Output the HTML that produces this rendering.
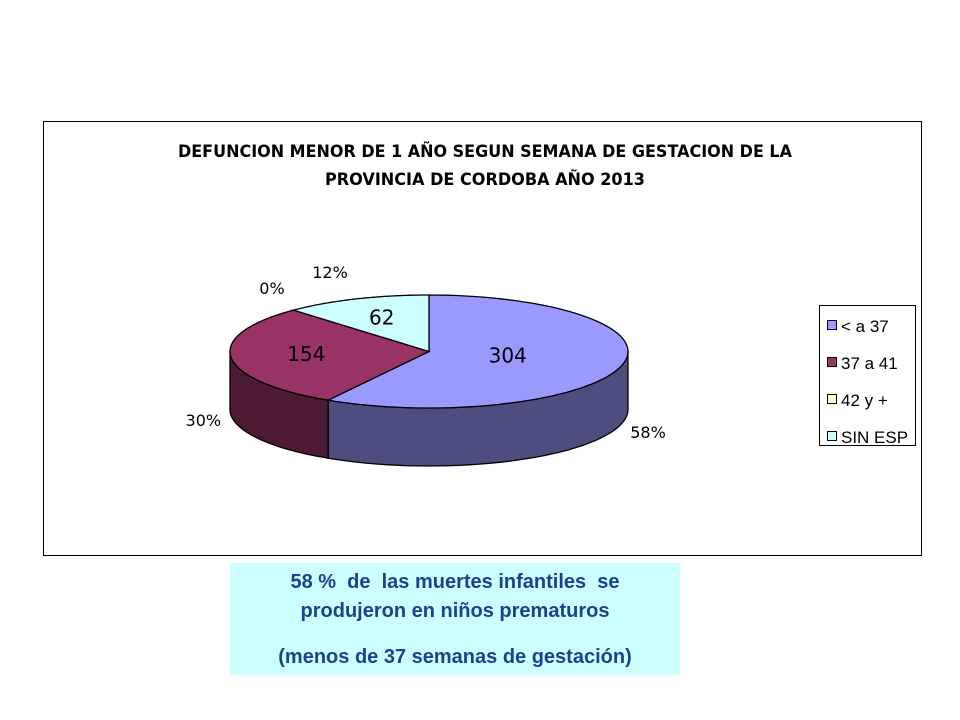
<!DOCTYPE html>
<html><head><meta charset="utf-8"><style>
body{margin:0;width:960px;height:720px;background:#fff;font-family:"Liberation Sans","DejaVu Sans",sans-serif;position:relative;overflow:hidden}
</style></head><body>
<svg width="960" height="720" style="position:absolute;left:0;top:0">
<rect x="43.5" y="121.5" width="878" height="434" fill="#fff" stroke="#000" stroke-width="1"/>
<text x="485" y="157" text-anchor="middle" font-family="'DejaVu Sans',sans-serif" font-weight="bold" font-size="16.5" textLength="614" lengthAdjust="spacingAndGlyphs">DEFUNCION MENOR DE 1 AÑO SEGUN SEMANA DE GESTACION DE LA</text>
<text x="485" y="185" text-anchor="middle" font-family="'DejaVu Sans',sans-serif" font-weight="bold" font-size="16.5" textLength="320" lengthAdjust="spacingAndGlyphs">PROVINCIA DE CORDOBA AÑO 2013</text>
<g id="pie"></g>
<g>
<rect x="819.5" y="305.5" width="96" height="140" fill="#fff" stroke="#000"/>
<g id="legend"></g>
</g>
</svg>
<div style="position:absolute;left:230px;top:563px;width:450px;height:112px;background:#ccffff;color:#1f3f8f;font-weight:bold;font-size:20px;text-align:center;line-height:29px;padding-top:5px;box-sizing:border-box">
58 % &nbsp;de &nbsp;las muertes infantiles &nbsp;se<br>produjeron en niños prematuros<br><span style="display:inline-block;margin-top:17px">(menos de 37 semanas de gestación)</span></div>
<script>
const categories=["< a 37","37 a 41","42 y +","SIN ESP"];
const values=[304,154,0,62];
const pctLabels=["58%","30%","0%","12%"];
const topColors=["#9999ff","#993366","#ffffcc","#ccffff"];
const sideColors=["#4d4d80","#4d1a33","#80806a","#6a8080"];
const cx=429,cy=351.5,rx=199,ry=56.5,depth=58;
const NS="http://www.w3.org/2000/svg";
const pie=document.getElementById('pie');
const total=values.reduce((a,b)=>a+b,0);
function pt(t,dy){return [cx+rx*Math.sin(t),cy-ry*Math.cos(t)+(dy||0)];}
function arc(a1,a2,dy,n){let s=[];for(let i=0;i<=n;i++){const t=a1+(a2-a1)*i/n;s.push(pt(t,dy));}return s;}
let acc=0;const angles=[];
values.forEach(v=>{const a1=acc/total*2*Math.PI;acc+=v;angles.push([a1,acc/total*2*Math.PI]);});
angles.forEach(([a1,a2],i)=>{
  const s=Math.max(a1,Math.PI/2),e=Math.min(a2,3*Math.PI/2);
  if(e<=s)return;
  const top=arc(s,e,0,40),bot=arc(e,s,depth,40);
  const p=document.createElementNS(NS,'path');
  p.setAttribute('d','M'+top.concat(bot).map(q=>q[0].toFixed(1)+','+q[1].toFixed(1)).join('L')+'Z');
  p.setAttribute('fill',sideColors[i]);p.setAttribute('stroke','#000');p.setAttribute('stroke-width','1.3');
  
  
  pie.appendChild(p);
});
angles.forEach(([a1,a2],i)=>{
  if(a2<=a1)return;
  const pts=arc(a1,a2,0,80);
  const p=document.createElementNS(NS,'path');
  p.setAttribute('d','M'+cx+','+cy+'L'+pts.map(q=>q[0].toFixed(1)+','+q[1].toFixed(1)).join('L')+'Z');
  p.setAttribute('fill',topColors[i]);p.setAttribute('stroke','#000');p.setAttribute('stroke-width','1.3');
  
  
  pie.appendChild(p);
});
function txt(x,y,s,size,name){const t=document.createElementNS(NS,'text');t.setAttribute('x',x);t.setAttribute('y',y);t.setAttribute('font-size',size);t.setAttribute('text-anchor','middle');t.setAttribute('font-family',"'DejaVu Sans',sans-serif");t.textContent=s;


pie.appendChild(t);return t;}
const radF=[0.82,1.24,1,1.3];
const yOff=[-4,0,0,7];
angles.forEach(([a1,a2],i)=>{
  const m=(a1+a2)/2;
  if(values[i]>0){
    const x=cx+rx*0.5*Math.sin(m)*radF[i];
    const y=(i==3?cy-ry*0.6:cy-ry*0.6*Math.cos(m)+6)+yOff[i];
    txt(x.toFixed(1),y.toFixed(1),values[i],20,'value-label-'+i);}
  let lx=cx+(rx+28)*Math.sin(m),ly=cy-(ry+22)*Math.cos(m)+(Math.cos(m)<0?depth+8:0);
  if(i==2){lx=272;ly=294;} if(i==3){lx=330;ly=278;}
  txt(lx.toFixed(1),ly.toFixed(1),pctLabels[i],16,'percent-label-'+i);
});
const lg=document.getElementById('legend');
categories.forEach((c,i)=>{
  const y=326+i*37;
  const r=document.createElementNS(NS,'rect');r.setAttribute('x',827.5);r.setAttribute('y',y-5.5);r.setAttribute('width',9);r.setAttribute('height',9);r.setAttribute('fill',topColors[i]);r.setAttribute('stroke','#000');
  
  
  lg.appendChild(r);
  const t=document.createElementNS(NS,'text');t.setAttribute('x',841);t.setAttribute('y',y+6);t.setAttribute('font-size',17);t.textContent=c;
  
  
  lg.appendChild(t);
});
</script>
</body></html>
